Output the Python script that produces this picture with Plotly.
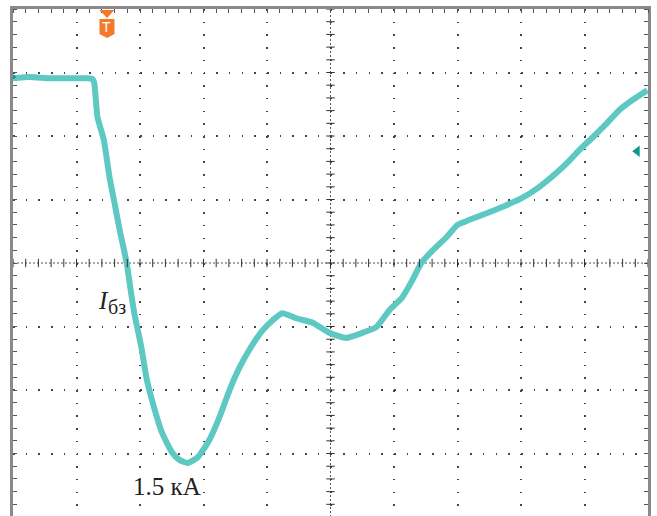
import numpy as np
import plotly.graph_objects as go

# Oscilloscope trace, in screen divisions (10 horizontal x 8 vertical)
time_div = [0.00, 0.26, 0.575, 0.89, 1.17, 1.25, 1.28, 1.33, 1.43, 1.52, 1.60, 1.68, 1.79, 1.87,
            1.91, 2.02, 2.10, 2.20, 2.35, 2.51, 2.62, 2.75, 2.91, 3.09, 3.25, 3.41, 3.57, 3.72,
            3.93, 4.09, 4.24, 4.46, 4.72, 4.98, 5.25, 5.50, 5.72, 5.93, 6.13, 6.29, 6.43, 6.61,
            6.83, 7.00, 7.19, 7.50, 7.77, 8.01, 8.29, 8.56, 8.77, 8.92, 9.13, 9.35, 9.55, 9.76, 9.99]
current_div = [2.91, 2.93, 2.91, 2.91, 2.91, 2.90, 2.83, 2.30, 1.94, 1.35, 0.94, 0.52, 0.00, -0.54,
               -0.79, -1.32, -1.80, -2.20, -2.68, -2.99, -3.10, -3.15, -3.06, -2.79, -2.43, -2.00, -1.64, -1.37,
               -1.06, -0.90, -0.79, -0.87, -0.94, -1.10, -1.18, -1.10, -1.01, -0.74, -0.54, -0.27, 0.00, 0.20,
               0.41, 0.60, 0.68, 0.80, 0.91, 1.02, 1.20, 1.42, 1.62, 1.78, 1.98, 2.20, 2.41, 2.57, 2.72]

x_major = list(range(1, 10))
y_major = [-3, -2, -1, 1, 2, 3]
trigger_x = 1.48
ch_ref_level = 2.93
right_marker_level = 1.76
label_current = "1.5 кА"
label_name_main = "I"
label_name_sub = "бз"

TRACE = "#5EC8C3"
ORANGE = "#F37A2A"
TEAL = "#12978F"

fig = go.Figure()

fig.add_trace(go.Scatter(
    x=time_div, y=current_div, mode="lines",
    line=dict(color=TRACE, width=6, shape="spline", smoothing=0.5),
    hoverinfo="skip", showlegend=False))

# center crosshair tick marks
minor_x = np.round(np.arange(0, 10.001, 0.2), 3)
minor_y = np.round(np.arange(-4, 4.001, 0.2), 3)
fig.add_trace(go.Scatter(
    x=minor_x, y=np.zeros_like(minor_x), mode="markers",
    marker=dict(symbol="line-ns", size=6, line=dict(color="#333", width=1)),
    hoverinfo="skip", showlegend=False))
fig.add_trace(go.Scatter(
    x=np.full_like(minor_y, 5.0), y=minor_y, mode="markers",
    marker=dict(symbol="line-ew", size=6, line=dict(color="#333", width=1)),
    hoverinfo="skip", showlegend=False))

# channel markers
fig.add_trace(go.Scatter(
    x=[0], y=[ch_ref_level], mode="markers", cliponaxis=False,
    marker=dict(symbol="triangle-right", size=7, color=TEAL),
    hoverinfo="skip", showlegend=False))
fig.add_trace(go.Scatter(
    x=[9.83], y=[right_marker_level], mode="markers", cliponaxis=False,
    marker=dict(symbol="triangle-left", size=10, color=TEAL),
    hoverinfo="skip", showlegend=False))

shapes = [
    dict(type="line", xref="x", yref="y", x0=0, x1=10, y0=0, y1=0,
         line=dict(color="#555", width=1, dash="2px,2px"), layer="below"),
    dict(type="line", xref="x", yref="y", x0=5, x1=5, y0=-4, y1=4,
         line=dict(color="#555", width=1, dash="2px,2px"), layer="below"),
    # trigger marker
    dict(type="path", xref="x", yref="y", xsizemode="pixel", ysizemode="pixel",
         xanchor=trigger_x, yanchor=4, path="M-7.5,-1 L7.5,-1 L0,-9 Z",
         fillcolor=ORANGE, line=dict(width=0)),
    dict(type="path", xref="x", yref="y", xsizemode="pixel", ysizemode="pixel",
         xanchor=trigger_x, yanchor=4, path="M-7.5,-10 L7.5,-10 L7.5,-25 L0,-29 L-7.5,-25 Z",
         fillcolor=ORANGE, line=dict(width=0)),
]

annotations = [
    dict(x=trigger_x, y=4, xref="x", yref="y", text="T", showarrow=False,
         yanchor="middle", yshift=-18, font=dict(family="Liberation Sans", size=14, color="white")),
    dict(x=1.54, y=-0.83, xref="x", yref="y", text="<i>" + label_name_main + "</i>", showarrow=False,
         xanchor="right", yanchor="bottom", font=dict(family="Liberation Serif", size=25, color="#222")),
    dict(x=1.46, y=-0.89, xref="x", yref="y", text=label_name_sub, showarrow=False,
         xanchor="left", yanchor="bottom", font=dict(family="Liberation Serif", size=20, color="#222")),
    dict(x=1.86, y=-3.52, xref="x", yref="y", text=label_current, showarrow=False,
         xanchor="left", yanchor="middle", font=dict(family="Liberation Serif", size=25, color="#222")),
]

fig.update_layout(
    width=657, height=516,
    margin=dict(l=13, r=9, t=9, b=0, autoexpand=False),
    paper_bgcolor="white", plot_bgcolor="white",
    shapes=shapes, annotations=annotations,
    xaxis=dict(range=[0, 10], side="top", tickvals=x_major, showticklabels=False, automargin=False,
               showgrid=True, gridcolor="#444", gridwidth=1.5, griddash="1.5px,11.2px",
               zeroline=False, showline=True, linecolor="#8a8a8a", linewidth=3,
               ticks="", minor=dict(dtick=0.2, tick0=0, ticks="inside", ticklen=4,
                                     tickcolor="#555", showgrid=False)),
    yaxis=dict(range=[-3.984, 4], tickvals=y_major, showticklabels=False, automargin=False,
               showgrid=True, gridcolor="#444", gridwidth=1.5, griddash="1.5px,11.2px",
               zeroline=False, showline=True, linecolor="#8a8a8a", linewidth=3, mirror="allticks",
               ticks="", minor=dict(dtick=0.2, tick0=0, ticks="inside", ticklen=4,
                                     tickcolor="#555", showgrid=False)),
)

fig.write_html("out.html", config={"displayModeBar": False},
               post_script="document.body.style.margin='0';document.body.style.overflow='hidden';")
